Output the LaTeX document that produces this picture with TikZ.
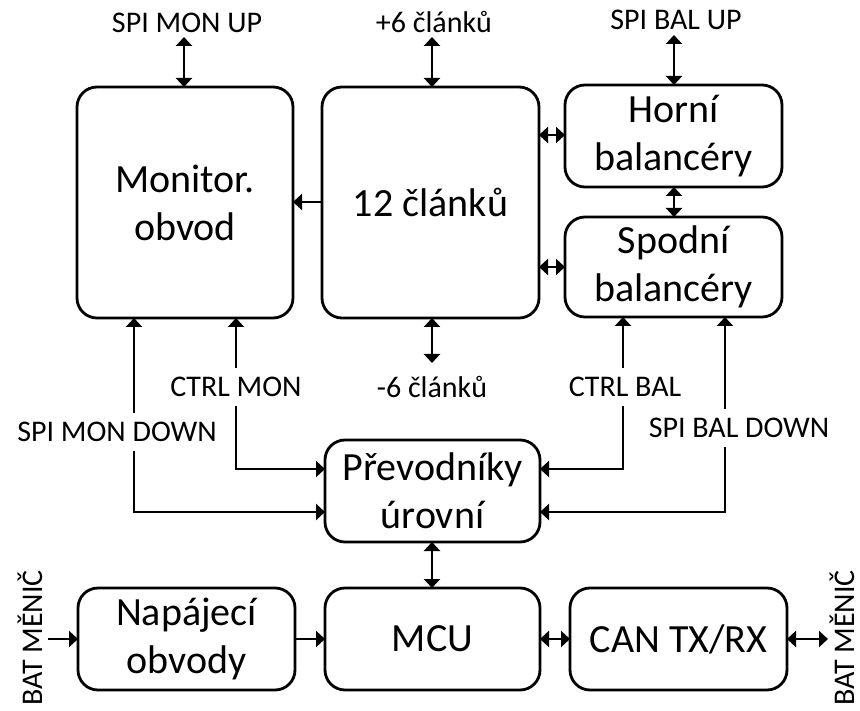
\documentclass[tikz,border=0pt]{standalone}
\usepackage{fontspec}
\setmainfont{Carlito}
\usetikzlibrary{arrows.meta}
\begin{document}
\begin{tikzpicture}[x=1pt,y=-1pt,
  blk/.style={draw, line width=2.8pt, rounded corners=20pt, outer sep=0pt,
    align=center, font=\fontsize{40}{48}\selectfont},
  lbl/.style={font=\fontsize{30}{34}\selectfont, inner sep=0pt, anchor=base},
  sig/.style={font=\fontsize{30}{34}\selectfont, fill=white, inner xsep=3pt, inner ysep=9.5pt},
  conn/.style={line width=2.6pt, arrows={-Triangle[width=16pt,length=9pt]}},
  bi/.style={line width=2.6pt, arrows={Triangle[width=16pt,length=9pt]-Triangle[width=16pt,length=9pt]}},
]
\useasboundingbox (0,0) rectangle (860,711);

% blocks
\node[blk, minimum width=216pt, minimum height=231pt] (mon) at (185,202.5) {Monitor.\\obvod};
\node[blk, minimum width=217pt, minimum height=231pt] (cells) at (430.5,202.5) {12 článků};
\node[blk, minimum width=217pt, minimum height=102pt] (horni) at (673.5,136) {Horní\\balancéry};
\node[blk, minimum width=217pt, minimum height=100pt] (spodni) at (673.5,267) {Spodní\\balancéry};
\node[blk, minimum width=215pt, minimum height=102pt] (prevod) at (432.5,491) {Převodníky\\úrovní};
\node[blk, minimum width=217pt, minimum height=102pt] (napaj) at (186.5,639) {Napájecí\\obvody};
\node[blk, minimum width=215pt, minimum height=102pt] (mcu) at (432.5,639) {MCU};
\node[blk, minimum width=217pt, minimum height=102pt] (can) at (678.5,639) {CAN TX/RX};

% plain labels (placed by baseline)
\node[lbl] (smuL) at (187,33) {SPI MON UP};
\node[lbl] (p6L) at (434,33) {+6 článků};
\node[lbl] (sbuL) at (676,30) {SPI BAL UP};
\node[lbl] (m6L) at (432,398) {-6 článků};
\node[lbl, rotate=90] (batL) at (42,638) {BAT MĚNIČ};
\node[lbl, rotate=90] (batR) at (854,638) {BAT MĚNIČ};

% free ends
\coordinate (smu) at (184,37);
\coordinate (p6) at (432,37);
\coordinate (sbu) at (674,35);
\coordinate (m6) at (432,363);
\coordinate (cm) at (236,469);
\coordinate (smd) at (134,512);
\coordinate (cb) at (623,469);
\coordinate (sbd) at (725,512);
\coordinate (batin) at (48,639);
\coordinate (batout) at (828,639);

% connectors
\draw[bi] (smu) -- (smu |- mon.north);
\draw[bi] (p6) -- (p6 |- cells.north);
\draw[bi] (sbu) -- (sbu |- horni.north);
\draw[conn] (cells.west |- 0,202) -- (mon.east |- 0,202);
\draw[bi] (cells.east |- 0,135) -- (horni.west |- 0,135);
\draw[bi] (cells.east |- 0,267) -- (spodni.west |- 0,267);
\draw[bi] (horni.south -| sbu) -- (spodni.north -| sbu);
\draw[bi] (m6 |- cells.south) -- (m6);

\draw[bi] (cm |- mon.south) -- (cm) -- (cm -| prevod.west);
\draw[bi] (smd |- mon.south) -- (smd) -- (smd -| prevod.west);
\draw[bi] (cb |- spodni.south) -- (cb) -- (cb -| prevod.east);
\draw[bi] (sbd |- spodni.south) -- (sbd) -- (sbd -| prevod.east);

\draw[bi] (prevod.south -| m6) -- (mcu.north -| m6);
\draw[conn] (batin) -- (napaj.west);
\draw[conn] (napaj.east) -- (mcu.west);
\draw[bi] (mcu.east) -- (can.west);
\draw[bi] (can.east) -- (batout);

% signal labels on the lines
\node[sig] (cmL) at (236,387) {CTRL MON};
\node[sig] (smdL) at (117,432) {SPI MON DOWN};
\node[sig] (cbL) at (625,387) {CTRL BAL};
\node[sig] (sbdL) at (739,428) {SPI BAL DOWN};
\end{tikzpicture}
\end{document}
